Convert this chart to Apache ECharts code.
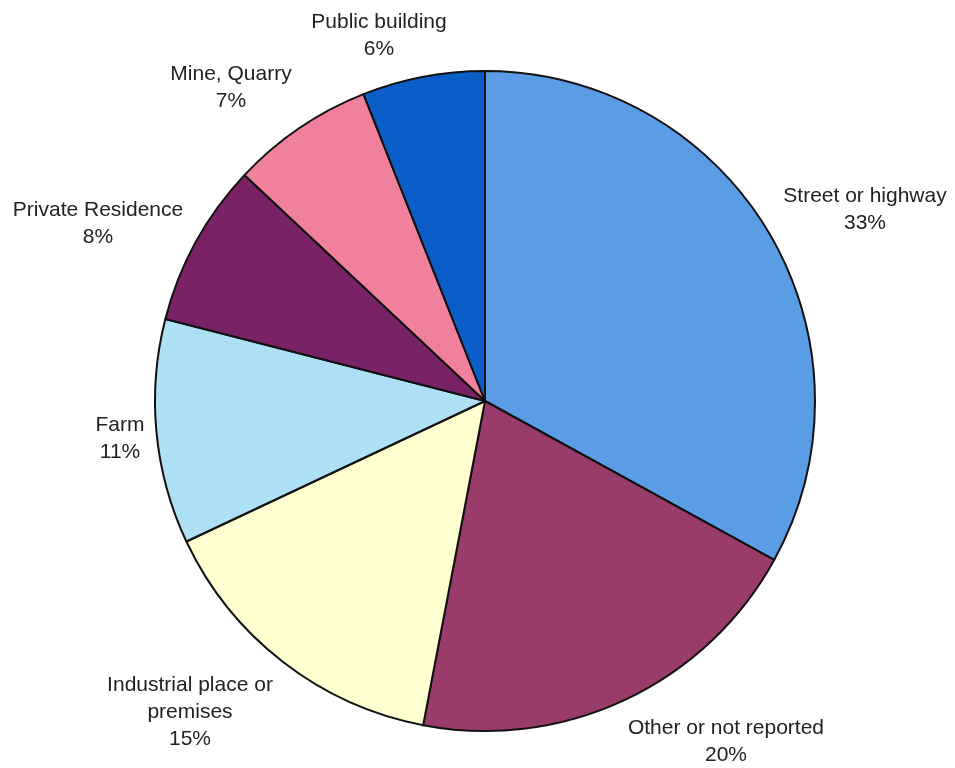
<!DOCTYPE html>
<html>
<head>
<meta charset="utf-8">
<script src="https://cdn.jsdelivr.net/npm/echarts@6/dist/echarts.min.js"></script>
<style>
  html, body { margin: 0; padding: 0; background: #ffffff; }
  #chart { width: 955px; height: 768px; }
</style>
</head>
<body>
<div id="chart"></div>
<script>
// Location categories, clockwise from 12 o'clock
const categories = [
  'Street or highway',
  'Other or not reported',
  'Industrial place or\npremises',
  'Farm',
  'Private Residence',
  'Mine, Quarry',
  'Public building'
];
// Share of each location, percent
const shares = [33, 20, 15, 11, 8, 7, 6];
const colors = ['#5b9de5', '#9a3c6b', '#ffffd0', '#aee0f5', '#7a2266', '#f0809c', '#0b5ec8'];

// Where each label block is centred (page pixels), same order as categories
const labelCenters = [
  [865, 210], [726, 742], [190, 712], [120, 439], [98, 224], [231, 88], [379, 36]
];

const chart = echarts.init(document.getElementById('chart'));
chart.setOption({
  backgroundColor: '#ffffff',
  animation: false,
  series: [{
    type: 'pie',
    center: [485, 401],
    radius: [0, 330],
    startAngle: 90,
    clockwise: true,
    data: categories.map((name, i) => ({
      name: name,
      value: shares[i],
      itemStyle: { color: colors[i] }
    })),
    itemStyle: { borderColor: '#111111', borderWidth: 2 },
    label: {
      show: true,
      position: 'outside',
      formatter: p => p.name + '\n' + p.value + '%',
      fontFamily: 'Liberation Sans, Arial, sans-serif',
      fontSize: 21,
      lineHeight: 27,
      color: '#222222',
      overflow: 'none',
      textAlign: 'center'
    },
    labelLine: { show: false },
    labelLayout: params => ({
      x: labelCenters[params.dataIndex][0],
      y: labelCenters[params.dataIndex][1],
      align: 'center',
      verticalAlign: 'middle'
    }),
    emphasis: { disabled: true }
  }]
});
</script>
</body>
</html>
